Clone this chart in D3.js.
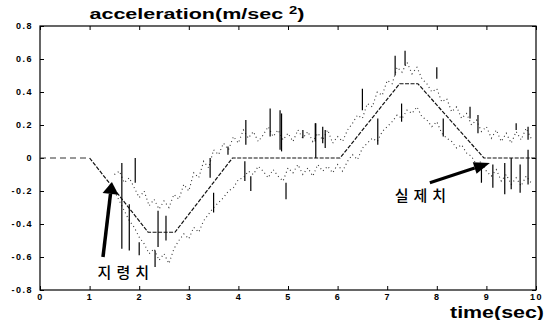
<!DOCTYPE html>
<html><head><meta charset="utf-8">
<script src="https://cdn.jsdelivr.net/npm/d3@7"></script>
<style>body{margin:0;background:#fff}</style>
</head><body>
<svg id="c" width="548" height="320"></svg>
<script>
// ---- data ----
const xTicks = [0,1,2,3,4,5,6,7,8,9,10];
const yTicks = [0.8,0.6,0.4,0.2,0,-0.2,-0.4,-0.6,-0.8];
const yTickLabels = ["0.8","0.6","0.4","0.2","0","-0.2","-0.4","-0.6","-0.8"];
// command profile (지령치)
const cmdT = [0, 1.0, 2.18, 2.72, 3.88, 6.05, 7.25, 7.62, 8.95, 10];
const cmdV = [0, 0, -0.45, -0.45, 0, 0, 0.45, 0.45, 0, 0];
// measured (실제치) – upper and lower scatter bands, sampled every 0.1 s from 1.5 s
const actHi = [-0.10,-0.08,-0.15,-0.12,-0.18,-0.24,-0.20,-0.29,-0.25,-0.31,-0.26,-0.30,-0.22,-0.25,-0.16,-0.20,-0.09,-0.12,-0.02,-0.06,
  0.05,0.02,0.09,0.05,0.13,0.09,0.17,0.12,0.16,0.10,0.14,0.19,0.13,0.17,0.11,0.15,0.10,0.17,0.12,0.16,
  0.10,0.15,0.11,0.17,0.09,0.13,0.10,0.17,0.21,0.26,0.24,0.33,0.31,0.40,0.38,0.47,0.45,0.55,0.52,0.58,
  0.51,0.55,0.48,0.45,0.40,0.42,0.34,0.36,0.28,0.31,0.24,0.27,0.20,0.23,0.16,0.19,0.12,0.17,0.10,0.15,
  0.09,0.16,0.11,0.18,0.12];
const actLo = [-0.20,-0.26,-0.32,-0.38,-0.42,-0.48,-0.52,-0.58,-0.55,-0.62,-0.58,-0.64,-0.55,-0.50,-0.46,-0.49,-0.42,-0.45,-0.38,-0.34,
  -0.30,-0.27,-0.24,-0.20,-0.18,-0.13,-0.12,-0.08,-0.10,-0.05,-0.08,-0.12,-0.07,-0.11,-0.14,-0.06,-0.09,-0.04,-0.10,-0.06,
  -0.11,-0.04,-0.08,-0.05,-0.09,-0.04,-0.08,-0.02,0.02,-0.01,0.06,0.09,0.12,0.10,0.16,0.19,0.22,0.26,0.24,0.29,
  0.27,0.31,0.25,0.23,0.19,0.22,0.15,0.12,0.10,0.06,0.08,0.03,0.01,-0.04,-0.02,-0.08,-0.11,-0.07,-0.14,-0.10,
  -0.16,-0.12,-0.17,-0.11,-0.15];
const actT0 = 1.5, actDt = 0.1;
// spikes in measured signal
const spikeT   = [1.65,1.80,1.92,2.00,2.32,2.38,2.54,3.43,3.50,3.79,4.13,4.15,4.25,4.64,4.84,4.87,4.96,5.30,5.55,5.56,5.70,5.75,6.50,6.81,7.16,7.29,7.36,8.00,8.13,8.67,8.83,8.90,9.13,9.37,9.50,9.60,9.68,9.84,9.84];
const spikeTop = [-0.03,-0.28,0.00,-0.51,-0.56,-0.32,-0.35,0.00,-0.21,0.07,-0.02,0.23,-0.11,0.30,0.29,0.27,-0.15,0.17,0.21,0.21,0.19,0.17,0.42,0.24,0.62,0.33,0.65,0.55,0.24,0.31,0.26,-0.03,-0.04,-0.03,0.00,0.21,-0.04,0.19,0.05];
const spikeBot = [-0.55,-0.56,-0.15,-0.59,-0.66,-0.54,-0.50,-0.12,-0.33,0.02,-0.14,0.08,-0.20,0.13,0.05,0.04,-0.25,0.12,0.10,0.00,0.09,0.06,0.29,0.08,0.50,0.22,0.56,0.48,0.13,0.24,0.15,-0.15,-0.18,-0.22,-0.19,0.17,-0.21,0.11,-0.16];
// annotations (data coords)
const arrows = [
  {label:"지령치", tail:[1.27,-0.60], tip:[1.45,-0.145], lab:[1.73,-0.70], head:12, half:8, w:3.5},
  {label:"실제치", tail:[7.86,-0.15], tip:[9.07,-0.03], lab:[7.72,-0.235], head:16, half:6, w:3}
];

// ---- chart ----
const svg = d3.select("#c");
const L=40, R=536, T=26, B=290;
const x = d3.scaleLinear().domain([0,10]).range([L,R]);
const y = d3.scaleLinear().domain([-0.8,0.8]).range([B,T]);
const font = "'Liberation Sans', Arial, sans-serif";

// frame
svg.append("rect").attr("x",L).attr("y",T).attr("width",R-L).attr("height",B-T)
  .attr("fill","none").attr("stroke","#000").attr("stroke-width",1.2);

// axes with inward ticks
const gB = svg.append("g").attr("transform",`translate(0,${B})`)
  .call(d3.axisBottom(x).tickValues(xTicks).tickSize(-4).tickPadding(4).tickFormat(d3.format("d")));
const gT = svg.append("g").attr("transform",`translate(0,${T})`)
  .call(d3.axisTop(x).tickValues(xTicks).tickSize(-4).tickFormat(""));
const gL = svg.append("g").attr("transform",`translate(${L},0)`)
  .call(d3.axisLeft(y).tickValues(yTicks).tickSize(-4).tickPadding(7).tickFormat((d,i)=>yTickLabels[i]));
const gR = svg.append("g").attr("transform",`translate(${R},0)`)
  .call(d3.axisRight(y).tickValues(yTicks).tickSize(-4).tickFormat(""));
[gB,gT,gL,gR].forEach(g=>{ g.select(".domain").remove(); g.selectAll("line").attr("stroke","#000");
  g.selectAll("text").attr("font-family",font).attr("font-size",9).attr("font-weight","bold").attr("fill","#000"); });
gL.selectAll("text").attr("letter-spacing",1.5);
gB.selectAll("text").attr("letter-spacing",1.5);

// measured bands
const line = d3.line().x(d=>x(d[0])).y(d=>y(d[1]));
[actHi, actLo].forEach(arr=>{
  svg.append("path").attr("d", line(arr.map((v,i)=>[actT0+actDt*i, v])))
    .attr("fill","none").attr("stroke","#333").attr("stroke-width",1.1).attr("stroke-dasharray","1,3");
});
// spikes
svg.append("g").selectAll("line").data(spikeT).join("line")
  .attr("x1",d=>x(d)).attr("x2",d=>x(d))
  .attr("y1",(d,i)=>y(spikeTop[i])).attr("y2",(d,i)=>y(spikeBot[i]))
  .attr("stroke","#000").attr("stroke-width",1.2);

// command line
const cmd = cmdT.map((t,i)=>[t,cmdV[i]]);
svg.append("path").attr("d", line(cmd.slice(0,2))).attr("fill","none")
  .attr("stroke","#333").attr("stroke-width",1).attr("stroke-dasharray","6,4");
svg.append("path").attr("d", line(cmd.slice(1))).attr("fill","none")
  .attr("stroke","#111").attr("stroke-width",1.2).attr("stroke-dasharray","4,1.5");

// arrows
arrows.forEach(a=>{
  const x0=x(a.tail[0]), y0=y(a.tail[1]), x1=x(a.tip[0]), y1=y(a.tip[1]);
  const dx=x1-x0, dy=y1-y0, len=Math.hypot(dx,dy), ux=dx/len, uy=dy/len, px=-uy, py=ux;
  const bx=x1-ux*a.head, by=y1-uy*a.head;
  svg.append("line").attr("x1",x0).attr("y1",y0).attr("x2",bx).attr("y2",by)
    .attr("stroke","#000").attr("stroke-width",a.w);
  svg.append("path").attr("d",`M${x1},${y1}L${bx+px*a.half},${by+py*a.half}L${bx-px*a.half},${by-py*a.half}Z`)
    .attr("fill","#000");
  svg.append("text").attr("x",x(a.lab[0])).attr("y",y(a.lab[1])).attr("text-anchor","middle")
    .attr("dominant-baseline","middle").attr("font-family","'Noto Sans CJK KR', sans-serif")
    .attr("font-size",15).attr("font-weight",500).attr("letter-spacing",5).attr("fill","#000").text(a.label);
});

// titles
const title = svg.append("text").attr("x",197).attr("y",19).attr("text-anchor","middle")
  .attr("font-family",font).attr("font-weight","bold").attr("font-size",14.5)
  .attr("textLength",215).attr("lengthAdjust","spacingAndGlyphs");
title.append("tspan").text("acceleration(m/sec ");
title.append("tspan").attr("font-size",10).attr("dy",-5).text("2");
title.append("tspan").attr("dy",5).text(")");
svg.append("text").attr("x",544).attr("y",318).attr("text-anchor","end")
  .attr("font-family",font).attr("font-weight","bold").attr("font-size",16)
  .attr("textLength",94).attr("lengthAdjust","spacingAndGlyphs")
  .text("time(sec)");
</script>
</body></html>
